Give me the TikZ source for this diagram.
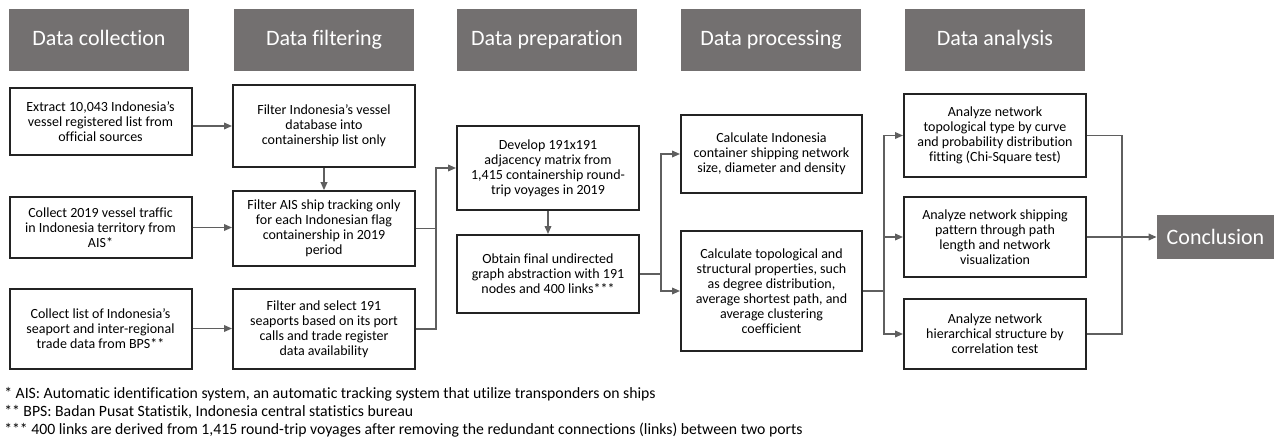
\documentclass[tikz,border=0pt]{standalone}
\usepackage{fontspec}
\setmainfont{Carlito}[Ligatures=NoCommon]
\usetikzlibrary{arrows.meta}

\definecolor{hdrgray}{RGB}{115,112,112}
\definecolor{linkgray}{RGB}{95,95,95}
\definecolor{boxline}{RGB}{35,35,35}

\begin{document}
\begin{tikzpicture}[
	x=0.75pt, y=-0.75pt,
	header/.style={
		rectangle,
		fill=hdrgray,
		text=white,
		align=center,
		inner sep=0pt,
		font=\fontsize{16.5}{18}\selectfont,
		text height=12pt,
		text depth=3.5pt,
		minimum height=46.5pt,
		minimum width=135pt
	},
	task/.style={
		rectangle,
		draw=boxline,
		line width=1.5pt,
		fill=white,
		align=center,
		inner sep=0pt,
		font=\fontsize{10.5}{11.25}\selectfont,
		minimum width=136.5pt
	},
	final/.style={
		rectangle,
		fill=hdrgray,
		text=white,
		inner sep=0pt,
		font=\fontsize{16.5}{18}\selectfont,
		minimum height=33pt,
		minimum width=88pt
	},
	link/.style={
		draw=linkgray,
		line width=1.1pt
	},
	arrow/.style={
		link,
		-{Triangle[length=6pt,width=5pt]}
	},
]

\useasboundingbox (0,0) rectangle (1274,442);

%% Headers %%
\node[header] (hcoll) at (99,40) {Data collection};
\node[header] (hfilt) at (324,40) {Data filtering};
\node[header] (hprep) at (547,40) {Data preparation};
\node[header] (hproc) at (771,40) {Data processing};
\node[header] (hana) at (995,40) {Data analysis};

%% Boxes %%
% data collection %
\node[task, minimum height=50pt] (ext) at (100.5,121.5) {Extract 10,043 Indonesia’s\\vessel registered list from\\official sources};
\node[task, minimum height=46pt] (traffic) at (100.5,227.5) {Collect 2019 vessel traffic\\in Indonesia territory from\\AIS*};
\node[task, minimum height=60pt] (ports) at (100.5,328.5) {Collect list of Indonesia’s\\seaport and inter-regional\\trade data from BPS**};

% data filtering %
\node[task, minimum height=61.5pt] (fvessel) at (324,126) {Filter Indonesia’s vessel\\database into\\containership list only};
\node[task, minimum height=56pt] (fais) at (324,228.5) {Filter AIS ship tracking only\\for each Indonesian flag\\containership in 2019\\period};
\node[task, minimum height=60pt] (fports) at (324,329) {Filter and select 191\\seaports based on its port\\calls and trade register\\data availability};

% data preparation %
\node[task, minimum height=63pt] (matrix) at (548,168) {Develop 191x191\\adjacency matrix from\\1,415 containership round-\\trip voyages in 2019};
\node[task, minimum height=58.5pt] (graph) at (548,274) {Obtain final undirected\\graph abstraction with 191\\nodes and 400 links***};

% data processing %
\node[task, minimum height=58.5pt, minimum width=135.75pt] (size) at (771.5,154) {Calculate Indonesia\\container shipping network\\size, diameter and density};
\node[task, minimum height=90pt, minimum width=135.75pt] (props) at (771.5,291) {Calculate topological and\\structural properties, such\\as degree distribution,\\average shortest path, and\\average clustering\\coefficient};

% data analysis %
\node[task, minimum height=62pt] (topo) at (995,135.5) {Analyze network\\topological type by curve\\and probability distribution\\fitting (Chi-Square test)};
\node[task, minimum height=60pt] (pattern) at (995,237) {Analyze network shipping\\pattern through path\\length and network\\visualization};
\node[task, minimum height=52.5pt] (hier) at (995,334) {Analyze network\\hierarchical structure by\\correlation test};

\node[final] (concl) at (1215.5,237) {Conclusion};

%% Connection arrows %%
% collection to filtering %
\draw[arrow] (ext.east |- fvessel.west) -- (fvessel.west);
\draw[arrow] (traffic.east) -- (traffic.east -| fais.west);
\draw[arrow] (ports.east) -- (ports.east -| fports.west);
\draw[arrow] (fvessel.south) -- (fais.north);

% filtering to preparation %
\draw[link] (fais.east) -- ++(20,0);
\draw[arrow] (fports.east) -- ++(20,0) |- (matrix.west);
\draw[arrow] (matrix.south) -- (graph.north);

% preparation to processing %
\draw[arrow] (graph.east) -- ++(21,0) |- (size.west);
\draw[arrow] (graph.east) -- ++(21,0) |- (props.west);

% processing to analysis %
\draw[arrow] (props.east) -- ++(21,0) |- (topo.west);
\draw[arrow] (props.east) -- ++(21,0) |- (pattern.west);
\draw[arrow] (props.east) -- ++(21,0) |- (hier.west);

% analysis to conclusion %
\draw[link] (topo.east) -- ++(35,0) |- (hier.east);
\draw[arrow] (pattern.east) -- (concl.west);

%% Notes %%
\node[anchor=north west, align=left, inner sep=0pt,
	font=\fontsize{11.8}{13.5}\selectfont] (notes) at (4,387)
	{* AIS: Automatic identification system, an automatic tracking system that utilize transponders on ships\\
	** BPS: Badan Pusat Statistik, Indonesia central statistics bureau\\
	*** 400 links are derived from 1,415 round-trip voyages after removing the redundant connections (links) between two ports};

\end{tikzpicture}
\end{document}
